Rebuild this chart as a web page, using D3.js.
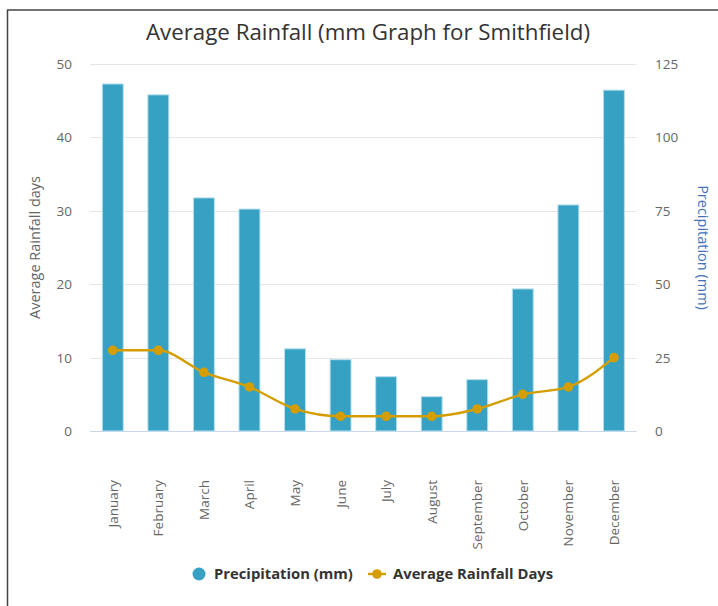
<!DOCTYPE html>
<html>
<head>
<meta charset="utf-8">
<script src="https://cdn.jsdelivr.net/npm/d3@7"></script>
<style>
  body { margin: 0; background: #fff; font-family: "Open Sans", sans-serif; }
</style>
</head>
<body>
<svg width="718" height="606"></svg>
<script>
var months = ["January", "February", "March", "April", "May", "June", "July",
    "August", "September", "October", "November", "December"];
var precipitation = [118.2, 114.5, 79.4, 75.6, 28, 24.3, 18.5, 11.7, 17.5, 48.4, 77, 116.1];
var rainDays = [11, 11, 8, 6, 3, 2, 2, 2, 3, 5, 6, 10];
var daysTicks = [0, 10, 20, 30, 40, 50];
var mmTicks = [0, 25, 50, 75, 100, 125];

var svg = d3.select("svg");
var plotLeft = 90, plotRight = 636.7, plotTop = 64, plotBottom = 431;

var barColor = "#37a1c4",
    lineColor = "#d59e00";

// frame of the screenshot
svg.append("line").attr("x1", 7).attr("x2", 718).attr("y1", 10).attr("y2", 10)
    .attr("stroke", "#444").attr("stroke-width", 1.5);
svg.append("line").attr("x1", 7.5).attr("x2", 7.5).attr("y1", 10).attr("y2", 606)
    .attr("stroke", "#444").attr("stroke-width", 1.5);

var x = d3.scaleBand().domain(months).range([plotLeft, plotRight]).paddingInner(0.54).paddingOuter(0.27);
var xc = d3.scalePoint().domain(months).range([plotLeft, plotRight]).padding(0.5);
var yDays = d3.scaleLinear().domain([0, 50]).range([plotBottom, plotTop]);
var yMm = d3.scaleLinear().domain([0, 125]).range([plotBottom, plotTop]);

// title
svg.append("text")
    .attr("x", 368).attr("y", 40)
    .attr("text-anchor", "middle")
    .style("font-size", "22.3px")
    .style("fill", "#333")
    .text("Average Rainfall (mm Graph for Smithfield)");

// grid
svg.append("g").selectAll("line")
    .data(daysTicks)
    .enter().append("line")
    .attr("x1", plotLeft).attr("x2", plotRight)
    .attr("y1", function(d) { return Math.round(yDays(d)) + 0.5; })
    .attr("y2", function(d) { return Math.round(yDays(d)) + 0.5; })
    .attr("stroke", function(d) { return d === 0 ? "#ccd6eb" : "#e6e6e6"; })
    .attr("stroke-width", 1);

// left axis labels
svg.append("g").selectAll("text")
    .data(daysTicks)
    .enter().append("text")
    .attr("x", 72)
    .attr("y", function(d) { return yDays(d) + 5; })
    .attr("text-anchor", "end")
    .style("font-size", "13.5px")
    .style("fill", "#666")
    .text(function(d) { return d; });

// right axis labels
svg.append("g").selectAll("text")
    .data(mmTicks)
    .enter().append("text")
    .attr("x", 655)
    .attr("y", function(d) { return yMm(d) + 5; })
    .attr("text-anchor", "start")
    .style("font-size", "13.5px")
    .style("fill", "#666")
    .text(function(d) { return d; });

svg.append("text")
    .attr("transform", "translate(40," + ((plotTop + plotBottom) / 2) + ") rotate(-90)")
    .attr("text-anchor", "middle")
    .style("font-size", "14.5px")
    .style("fill", "#666")
    .text("Average Rainfall days");

svg.append("text")
    .attr("transform", "translate(698," + ((plotTop + plotBottom) / 2) + ") rotate(90)")
    .attr("text-anchor", "middle")
    .style("font-size", "14.5px")
    .style("fill", "#4572b8")
    .text("Precipitation (mm)");

// bars
svg.append("g").selectAll("rect")
    .data(precipitation)
    .enter().append("rect")
    .attr("x", function(d, i) { return x(months[i]); })
    .attr("width", x.bandwidth())
    .attr("y", function(d) { return yMm(d); })
    .attr("height", function(d) { return plotBottom - yMm(d); })
    .attr("fill", barColor)
    .attr("stroke", "#b8e0ee")
    .attr("stroke-width", 1);

// x labels
svg.append("g").selectAll("text")
    .data(months)
    .enter().append("text")
    .attr("transform", function(d) { return "translate(" + (xc(d) + 5) + ",480) rotate(-90)"; })
    .attr("text-anchor", "end")
    .style("font-size", "13.5px")
    .style("fill", "#666")
    .text(function(d) { return d; });

// line
var line = d3.line()
    .x(function(d, i) { return xc(months[i]); })
    .y(function(d) { return yDays(d); })
    .curve(d3.curveMonotoneX);

svg.append("path")
    .datum(rainDays)
    .attr("d", line)
    .attr("fill", "none")
    .attr("stroke", lineColor)
    .attr("stroke-width", 2.4);

svg.append("g").selectAll("circle")
    .data(rainDays)
    .enter().append("circle")
    .attr("cx", function(d, i) { return xc(months[i]); })
    .attr("cy", function(d) { return yDays(d); })
    .attr("r", 4.8)
    .attr("fill", lineColor);

// legend
var lg = svg.append("g").attr("transform", "translate(0,574)");
lg.append("circle").attr("cx", 199).attr("cy", 0).attr("r", 6.5).attr("fill", barColor);
lg.append("text").attr("x", 214).attr("y", 5)
    .style("font-size", "14.8px").style("font-weight", "bold").style("fill", "#333")
    .text("Precipitation (mm)");
lg.append("line").attr("x1", 368).attr("x2", 386).attr("y1", 0).attr("y2", 0)
    .attr("stroke", lineColor).attr("stroke-width", 2.4);
lg.append("circle").attr("cx", 377).attr("cy", 0).attr("r", 4.8).attr("fill", lineColor);
lg.append("text").attr("x", 393).attr("y", 5)
    .style("font-size", "14.8px").style("font-weight", "bold").style("fill", "#333")
    .text("Average Rainfall Days");
</script>
</body>
</html>
